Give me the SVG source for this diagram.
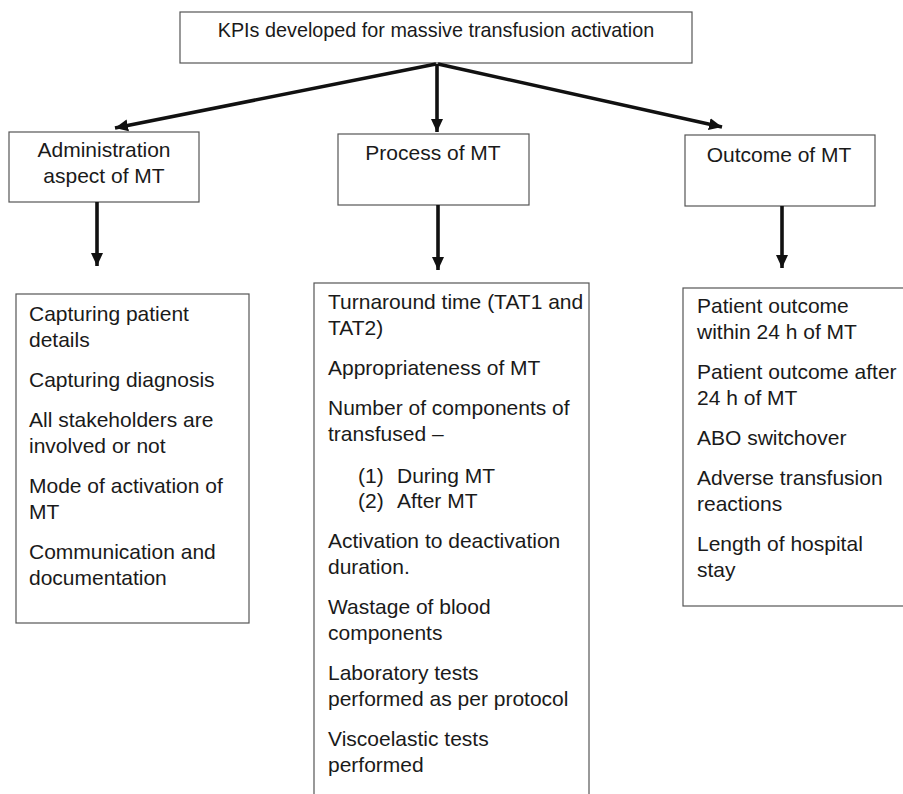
<svg xmlns="http://www.w3.org/2000/svg" width="903" height="794" viewBox="0 0 903 794">
  <defs>
    <marker id="head" markerUnits="userSpaceOnUse" markerWidth="14" markerHeight="14" viewBox="0 0 14 14" refX="13" refY="7" orient="auto">
      <path d="M0,1 L13,7 L0,13 Z" fill="#111"/>
    </marker>
    <style>
      .box { fill: #fff; stroke: #555; stroke-width: 1.2; }
      .t { font-family: "Liberation Sans", Arial, sans-serif; font-size: 21px; fill: #1a1a1a; }
      .c { text-anchor: middle; }
      .title { font-size: 19.8px; }
      .link { stroke: #111; stroke-width: 3.6; fill: none; marker-end: url(#head); }
    </style>
  </defs>
  <rect width="903" height="794" fill="#fff"/>

  <!-- root -->
  <g id="root">
    <rect class="box" x="180" y="12" width="512" height="51"/>
    <text class="t c title" x="436" y="37">KPIs developed for massive transfusion activation</text>
  </g>

  <!-- category headers -->
  <g id="admin">
    <rect class="box" x="9" y="132" width="190" height="70"/>
    <text class="t c" x="104" y="157">Administration</text>
    <text class="t c" x="104" y="183">aspect of MT</text>
  </g>
  <g id="process">
    <rect class="box" x="338" y="134" width="191" height="71"/>
    <text class="t c" x="433" y="160">Process of MT</text>
  </g>
  <g id="outcome">
    <rect class="box" x="685" y="135" width="190" height="71"/>
    <text class="t c" x="779" y="162">Outcome of MT</text>
  </g>

  <!-- indicator lists -->
  <g id="admin-kpis">
    <rect class="box" x="16" y="294" width="233" height="329"/>
    <text class="t" x="29" y="321">Capturing patient</text>
    <text class="t" x="29" y="347">details</text>
    <text class="t" x="29" y="387">Capturing diagnosis</text>
    <text class="t" x="29" y="427">All stakeholders are</text>
    <text class="t" x="29" y="453">involved or not</text>
    <text class="t" x="29" y="493">Mode of activation of</text>
    <text class="t" x="29" y="519">MT</text>
    <text class="t" x="29" y="559">Communication and</text>
    <text class="t" x="29" y="585">documentation</text>
  </g>
  <g id="process-kpis">
    <rect class="box" x="314" y="283" width="275" height="530"/>
    <text class="t" x="328" y="309">Turnaround time (TAT1 and</text>
    <text class="t" x="328" y="335">TAT2)</text>
    <text class="t" x="328" y="375">Appropriateness of MT</text>
    <text class="t" x="328" y="415">Number of components of</text>
    <text class="t" x="328" y="441">transfused –</text>
    <text class="t" x="358" y="483">(1)</text>
    <text class="t" x="397" y="483">During MT</text>
    <text class="t" x="358" y="508">(2)</text>
    <text class="t" x="397" y="508">After MT</text>
    <text class="t" x="328" y="548">Activation to deactivation</text>
    <text class="t" x="328" y="574">duration.</text>
    <text class="t" x="328" y="614">Wastage of blood</text>
    <text class="t" x="328" y="640">components</text>
    <text class="t" x="328" y="680">Laboratory tests</text>
    <text class="t" x="328" y="706">performed as per protocol</text>
    <text class="t" x="328" y="746">Viscoelastic tests</text>
    <text class="t" x="328" y="772">performed</text>
  </g>
  <g id="outcome-kpis">
    <rect class="box" x="683" y="288" width="240" height="318"/>
    <text class="t" x="697" y="313">Patient outcome</text>
    <text class="t" x="697" y="339">within 24 h of MT</text>
    <text class="t" x="697" y="379">Patient outcome after</text>
    <text class="t" x="697" y="405">24 h of MT</text>
    <text class="t" x="697" y="445">ABO switchover</text>
    <text class="t" x="697" y="485">Adverse transfusion</text>
    <text class="t" x="697" y="511">reactions</text>
    <text class="t" x="697" y="551">Length of hospital</text>
    <text class="t" x="697" y="577">stay</text>
  </g>

  <!-- connectors -->
  <g id="connectors">
    <line class="link" x1="436" y1="64" x2="115" y2="128"/>
    <line class="link" x1="437" y1="64" x2="437" y2="132"/>
    <line class="link" x1="438" y1="64" x2="722" y2="127"/>
    <line class="link" x1="97" y1="202" x2="97" y2="266"/>
    <line class="link" x1="438" y1="205" x2="438" y2="270"/>
    <line class="link" x1="782" y1="206" x2="782" y2="268"/>
  </g>
</svg>
